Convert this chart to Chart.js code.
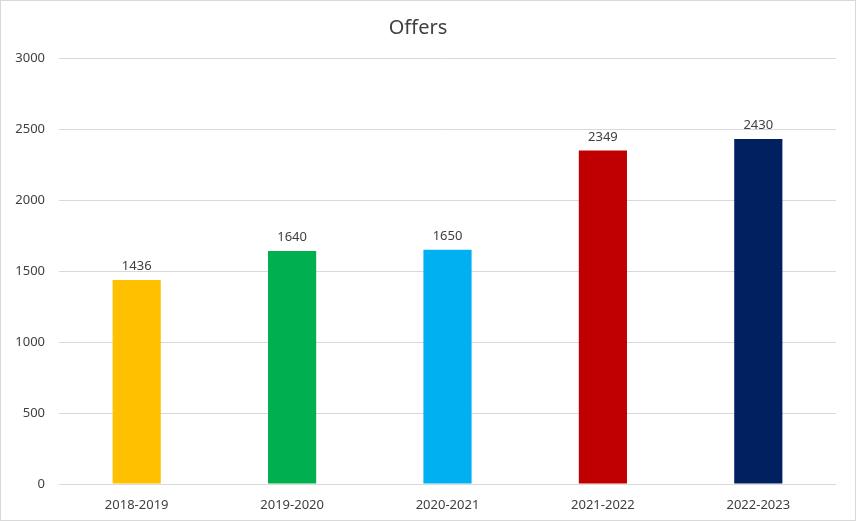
<!DOCTYPE html>
<html>
<head>
<meta charset="utf-8">
<script src="https://cdn.jsdelivr.net/npm/chart.js@4"></script>
<style>
  html, body { margin: 0; padding: 0; background: #fff; }
  #wrap { width: 856px; height: 521px; position: relative; }
</style>
</head>
<body>
<div id="wrap"><canvas id="offersChart" width="856" height="521"></canvas></div>
<script>
// Offers per academic year
const years = ['2018-2019', '2019-2020', '2020-2021', '2021-2022', '2022-2023'];
const offers = [1436, 1640, 1650, 2349, 2430];
const barColors = ['#FFC000', '#00B050', '#00B0F0', '#C00000', '#002060'];
const yTicks = [0, 500, 1000, 1500, 2000, 2500, 3000];

const FONT = "'Noto Sans', 'Open Sans', sans-serif";

// white background + thin frame like the spreadsheet chart
const framePlugin = {
    id: 'frame',
    beforeDraw(chart) {
        const ctx = chart.ctx;
        ctx.save();
        ctx.fillStyle = '#ffffff';
        ctx.fillRect(0, 0, chart.width, chart.height);
        ctx.strokeStyle = '#d9d9d9';
        ctx.lineWidth = 1;
        ctx.strokeRect(0.5, 0.5, chart.width - 1, chart.height - 1);
        ctx.restore();
    }
};

// value labels above each bar
const valueLabels = {
    id: 'valueLabels',
    afterDatasetsDraw(chart) {
        const ctx = chart.ctx;
        const meta = chart.getDatasetMeta(0);
        ctx.save();
        ctx.font = `13px ${FONT}`;
        ctx.fillStyle = '#404040';
        ctx.textAlign = 'center';
        ctx.textBaseline = 'bottom';
        meta.data.forEach((bar, i) => {
            ctx.fillText(String(offers[i]), bar.x, bar.y - 7);
        });
        ctx.restore();
    }
};

new Chart(document.getElementById('offersChart'), {
    type: 'bar',
    data: {
        labels: years,
        datasets: [{
            label: 'Offers',
            data: offers,
            backgroundColor: barColors,
            borderWidth: 0,
            categoryPercentage: 1,
            barPercentage: 0.31,
        }]
    },
    options: {
        responsive: false,
        animation: false,
        layout: { padding: { left: 0, right: 20, top: 0, bottom: 0 } },
        plugins: {
            legend: { display: false },
            tooltip: { enabled: false },
            title: {
                display: true,
                text: 'Offers',
                color: '#404040',
                font: { family: FONT, size: 20, weight: 'normal' },
                padding: { top: 16, bottom: 18 },
            },
        },
        scales: {
            x: {
                grid: { display: false },
                border: { display: false },
                ticks: {
                    color: '#404040',
                    font: { family: FONT, size: 13 },
                    padding: 5,
                },
                afterFit(scale) { scale.height = 37; },
            },
            y: {
                min: 0,
                max: 3000,
                afterBuildTicks(scale) { scale.ticks = yTicks.map(v => ({ value: v })); },
                grid: { color: '#d9d9d9', drawTicks: false },
                border: { display: false },
                ticks: {
                    color: '#404040',
                    font: { family: FONT, size: 13 },
                    padding: 14,
                    callback: (v) => String(v),
                },
                afterFit(scale) { scale.width = 59; },
            },
        },
    },
    plugins: [framePlugin, valueLabels],
});
</script>
</body>
</html>
